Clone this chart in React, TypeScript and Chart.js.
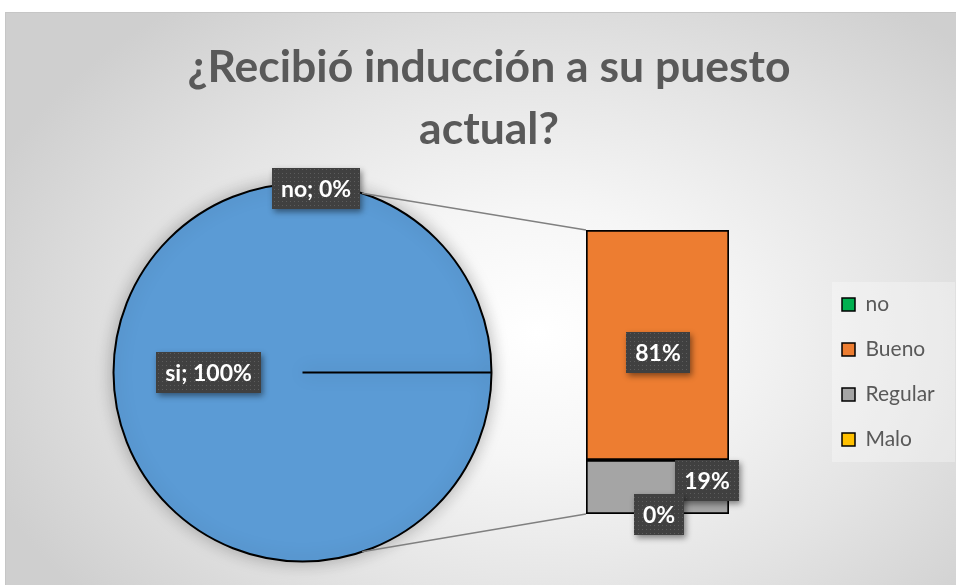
import React, { useEffect, useRef } from 'react';
import { Chart, registerables } from 'chart.js';

Chart.register(...registerables);

const TITLE_LINES = ['¿Recibió inducción a su puesto', 'actual?'];

const PIE_LABELS = ['si', 'no'];
const PIE_VALUES = [100, 0];
const PIE_COLORS = ['#5B9BD5', '#00B050'];

const BAR_CATEGORY = ['no'];
// bottom to top of the stacked bar
const BAR_LABELS = ['Malo', 'Regular', 'Bueno'];
const BAR_VALUES = [0, 19, 81];
const BAR_COLORS = ['#FFC000', '#A5A5A5', '#ED7D31'];

const LEGEND_LABELS = ['no', 'Bueno', 'Regular', 'Malo'];
const LEGEND_COLORS = ['#00B050', '#ED7D31', '#A5A5A5', '#FFC000'];

const W = 951;
const H = 573;
const FONT = 'Lato, "Open Sans", sans-serif';

let dotPattern: CanvasPattern | null = null;
function getPattern(ctx: CanvasRenderingContext2D) {
  if (!dotPattern) {
    const c = document.createElement('canvas');
    c.width = 4;
    c.height = 4;
    const p = c.getContext('2d')!;
    p.fillStyle = '#404040';
    p.fillRect(0, 0, 4, 4);
    p.fillStyle = '#5c5c5c';
    p.fillRect(1, 1, 1, 1);
    dotPattern = ctx.createPattern(c, 'repeat');
  }
  return dotPattern;
}

function drawLabel(ctx: CanvasRenderingContext2D, text: string, cx: number, cy: number) {
  ctx.save();
  ctx.font = `bold 23px ${FONT}`;
  const tw = ctx.measureText(text).width;
  const w = Math.round(tw + 18);
  const h = 41;
  const x0 = Math.round(cx - w / 2);
  const y0 = Math.round(cy - h / 2);
  ctx.shadowColor = 'rgba(0,0,0,0.45)';
  ctx.shadowBlur = 6;
  ctx.shadowOffsetX = 2;
  ctx.shadowOffsetY = 3;
  ctx.fillStyle = '#404040';
  ctx.fillRect(x0, y0, w, h);
  ctx.shadowColor = 'transparent';
  ctx.fillStyle = getPattern(ctx) || '#404040';
  ctx.fillRect(x0, y0, w, h);
  ctx.fillStyle = '#ffffff';
  ctx.textAlign = 'center';
  ctx.textBaseline = 'middle';
  ctx.fillText(text, x0 + w / 2, y0 + h / 2 + 1);
  ctx.restore();
}

const pct = (v: number, arr: number[]) => {
  const t = arr.reduce((a, b) => a + b, 0);
  return Math.round((v / t) * 100);
};

export default function App() {
  const pieRef = useRef<HTMLCanvasElement>(null);
  const barRef = useRef<HTMLCanvasElement>(null);

  useEffect(() => {
    const pieDeco = {
      id: 'pieDeco',
      beforeDatasetsDraw(chart: any) {
        const ctx = chart.ctx;
        ctx.save();
        ctx.shadowColor = 'rgba(0,0,0,0.28)';
        ctx.shadowBlur = 18;
      },
      afterDatasetsDraw(chart: any) {
        const ctx = chart.ctx;
        ctx.restore();
        const arc = chart.getDatasetMeta(0).data[0];
        const { x, y, outerRadius } = arc.getProps(['x', 'y', 'outerRadius'], true);
        const cp = arc.getCenterPoint();
        drawLabel(ctx, `${PIE_LABELS[0]}; ${pct(PIE_VALUES[0], PIE_VALUES)}%`, cp.x, cp.y);
        drawLabel(
          ctx,
          `${PIE_LABELS[1]}; ${pct(PIE_VALUES[1], PIE_VALUES)}%`,
          x + 0.07 * outerRadius,
          y - 0.975 * outerRadius
        );
      },
    };

    const pieChart = new Chart(pieRef.current!, {
      type: 'pie',
      data: {
        labels: PIE_LABELS,
        datasets: [
          {
            data: PIE_VALUES,
            backgroundColor: PIE_COLORS,
            borderColor: '#000000',
            borderWidth: 2,
            rotation: 90,
            radius: 189,
          } as any,
        ],
      },
      options: {
        animation: false,
        responsive: false,
        events: [],
        rotation: 90,
        radius: 189,
        layout: { padding: { left: 97.5, right: 453.5, top: 160.5, bottom: 12.5 } },
        plugins: { legend: { display: false }, tooltip: { enabled: false } },
      } as any,
      plugins: [pieDeco],
    });

    const barDeco = {
      id: 'barDeco',
      afterLayout(chart: any) {
        const lg = chart.legend;
        if (!lg) return;
        const pad = 25;
        const ca = chart.chartArea;
        lg.left = chart.width - 113 - pad;
        lg.right = lg.left + lg.width;
        lg.top = ca.top;
        lg.bottom = ca.bottom;
        lg.height = ca.bottom - ca.top;
      },
      beforeDraw(chart: any) {
        const ctx = chart.ctx;
        const ca = chart.chartArea;
        const cy = (ca.top + ca.bottom) / 2;
        const bx = chart.width - 113;
        ctx.save();
        ctx.fillStyle = 'rgba(255,255,255,0.3)';
        ctx.fillRect(bx - 11, cy - 90, chart.width - bx + 11 - 1, 180);
        ctx.restore();
      },
      beforeDatasetsDraw(chart: any) {
        const ctx = chart.ctx;
        const arc = pieChart.getDatasetMeta(0).data[0] as any;
        const { x: cx, y: cy, outerRadius: r } = arc.getProps(['x', 'y', 'outerRadius'], true);
        const topEl = chart.getDatasetMeta(BAR_LABELS.length - 1).data[0];
        const botEl = chart.getDatasetMeta(0).data[0];
        const tp = topEl.getProps(['x', 'y', 'width'], true);
        const bp = botEl.getProps(['x', 'base', 'width'], true);
        const a = (71.6 * Math.PI) / 180;
        ctx.save();
        ctx.strokeStyle = '#808080';
        ctx.lineWidth = 1.5;
        ctx.beginPath();
        ctx.moveTo(cx + r * Math.cos(a), cy - r * Math.sin(a));
        ctx.lineTo(tp.x - tp.width / 2, tp.y);
        ctx.moveTo(cx + r * Math.cos(a), cy + r * Math.sin(a));
        ctx.lineTo(bp.x - bp.width / 2, bp.base);
        ctx.stroke();
        ctx.restore();
      },
      afterDatasetsDraw(chart: any) {
        const ctx = chart.ctx;
        const bueno = chart.getDatasetMeta(2).data[0].getProps(['x', 'y', 'base'], true);
        const regular = chart.getDatasetMeta(1).data[0].getProps(['x', 'y', 'base'], true);
        const malo = chart.getDatasetMeta(0).data[0].getProps(['x', 'y', 'base'], true);
        drawLabel(ctx, `${pct(BAR_VALUES[2], BAR_VALUES)}%`, bueno.x, (bueno.y + bueno.base) / 2 + 7);
        drawLabel(ctx, `${pct(BAR_VALUES[1], BAR_VALUES)}%`, regular.x + 49, (regular.y + regular.base) / 2 - 7);
        drawLabel(ctx, `${pct(BAR_VALUES[0], BAR_VALUES)}%`, malo.x + 1, malo.base);
      },
    };

    const barChart = new Chart(barRef.current!, {
      type: 'bar',
      data: {
        labels: BAR_CATEGORY,
        datasets: BAR_LABELS.map((l, i) => ({
          label: l,
          data: [BAR_VALUES[i]],
          backgroundColor: BAR_COLORS[i],
          borderColor: '#000000',
          borderWidth: 2,
          borderSkipped: false,
          categoryPercentage: 1,
          barPercentage: 1,
        })),
      },
      options: {
        animation: false,
        responsive: false,
        events: [],
        layout: { padding: { left: 581, right: 227, top: 218, bottom: 71 } },
        scales: {
          x: { display: false, stacked: true },
          y: { display: false, stacked: true, min: 0, max: 100 },
        },
        plugins: {
          tooltip: { enabled: false },
          legend: {
            display: true,
            position: 'chartArea',
            align: 'center',
            labels: {
              boxWidth: 13,
              boxHeight: 13,
              padding: 24,
              color: '#595959',
              font: { family: FONT, size: 21 },
              generateLabels: () =>
                LEGEND_LABELS.map((t, i) => ({
                  text: t,
                  fillStyle: LEGEND_COLORS[i],
                  strokeStyle: '#000000',
                  lineWidth: 1.5,
                  hidden: false,
                  datasetIndex: i,
                  fontColor: '#595959',
                })),
            },
          },
        },
      } as any,
      plugins: [barDeco],
    });

    return () => {
      barChart.destroy();
      pieChart.destroy();
    };
  }, []);

  return (
    <div
      style={{
        position: 'fixed',
        left: 5,
        top: 12,
        width: W,
        height: H,
        background:
          'radial-gradient(ellipse 62% 72% at 56% 56%, #ffffff 0%, #f6f6f6 30%, #e4e4e4 65%, #cfcfcf 100%)',
        boxShadow: 'inset 1px 1px 0 #c6c6c6',
        overflow: 'hidden',
      }}
    >
      <canvas ref={pieRef} width={W} height={H} style={{ position: 'absolute', left: 0, top: 0, display: 'block' }} />
      <canvas ref={barRef} width={W} height={H} style={{ position: 'absolute', left: 0, top: 0, display: 'block' }} />
      <div
        style={{
          position: 'absolute',
          left: 17,
          right: 0,
          top: 22,
          textAlign: 'center',
          fontFamily: FONT,
          fontWeight: 'bold',
          fontSize: 44.5,
          lineHeight: '62px',
          color: '#595959',
          pointerEvents: 'none',
        }}
      >
        {TITLE_LINES.map((t, i) => (
          <div key={i}>{t}</div>
        ))}
      </div>
    </div>
  );
}
